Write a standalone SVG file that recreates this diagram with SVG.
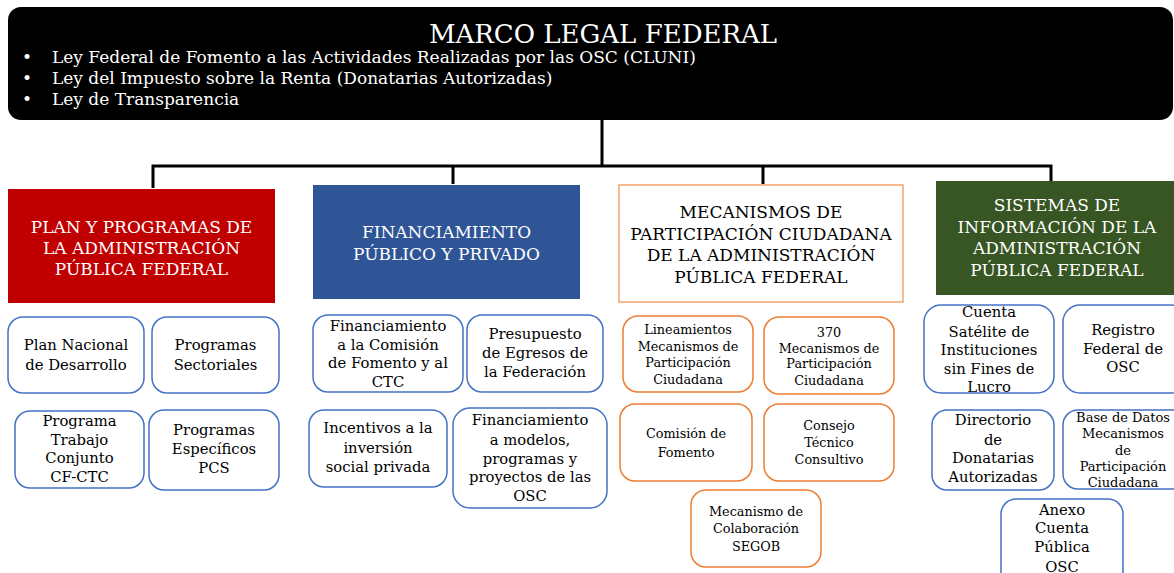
<svg xmlns="http://www.w3.org/2000/svg" width="1174" height="573" viewBox="0 0 1174 573">
<style>
text{font-family:"DejaVu Serif","Liberation Serif",serif;}
.hd{fill:#fff;font-size:17px;text-anchor:middle;}
.hdk{fill:#000;font-size:17px;text-anchor:middle;}
.t{fill:#000;text-anchor:middle;}
.b{fill:#fff;stroke:#4472C4;stroke-width:1.5;}
.o{fill:#fff;stroke:#ED7D31;stroke-width:1.5;}
.s15{font-size:14.8px;}
.s14{font-size:14.8px;}
.s13{font-size:12.8px;}
.s13b{font-size:13px;}
.con{fill:none;stroke:#000;stroke-width:3;}
</style>
<rect width="1174" height="573" fill="#fff"/>
<g id="marco-legal">
<rect x="8" y="7" width="1165" height="113" rx="13" fill="#000"/>
<text x="603" y="43" fill="#fff" font-size="26" text-anchor="middle">MARCO LEGAL FEDERAL</text>
<g fill="#fff" font-size="17">
<text x="22" y="63">•</text><text x="52" y="63">Ley Federal de Fomento a las Actividades Realizadas por las OSC (CLUNI)</text>
<text x="22" y="84">•</text><text x="52" y="84">Ley del Impuesto sobre la Renta (Donatarias Autorizadas)</text>
<text x="22" y="105">•</text><text x="52" y="105">Ley de Transparencia</text>
</g>
</g>
<g id="connectors">
<path class="con" d="M602,120 V166"/>
<path class="con" d="M153,188 V166 H1051 V181"/>
<path class="con" d="M453,166 V184"/>
<path class="con" d="M763,166 V184"/>
</g>
<g id="plan">
<rect x="8" y="189" width="267" height="114" fill="#C00000"/>
<text class="hd" x="141.5" y="233">PLAN Y PROGRAMAS DE</text>
<text class="hd" x="141.5" y="254">LA ADMINISTRACIÓN</text>
<text class="hd" x="141.5" y="275">PÚBLICA FEDERAL</text>
</g>
<g id="financiamiento">
<rect x="313" y="185" width="267" height="114" fill="#2F5597"/>
<text class="hd" x="446.5" y="238">FINANCIAMIENTO</text>
<text class="hd" x="446.5" y="260">PÚBLICO Y PRIVADO</text>
</g>
<g id="mecanismos">
<rect x="619" y="185" width="284" height="117" fill="#fff" stroke="#F4A46F" stroke-width="1.5"/>
<text class="hdk" x="761" y="218">MECANISMOS DE</text>
<text class="hdk" x="761" y="239.5">PARTICIPACIÓN CIUDADANA</text>
<text class="hdk" x="761" y="261">DE LA ADMINISTRACIÓN</text>
<text class="hdk" x="761" y="282.5">PÚBLICA FEDERAL</text>
</g>
<g id="sistemas">
<rect x="936" y="181" width="240" height="114" fill="#375623"/>
<text class="hd" x="1057" y="211">SISTEMAS DE</text>
<text class="hd" x="1057" y="233">INFORMACIÓN DE LA</text>
<text class="hd" x="1057" y="254">ADMINISTRACIÓN</text>
<text class="hd" x="1057" y="276">PÚBLICA FEDERAL</text>
</g>
<g id="plan-nacional"><rect class="b" x="8" y="317" width="136" height="76" rx="15"/>
<text class="t s14" x="76" y="350">Plan Nacional</text><text class="t s14" x="76" y="370">de Desarrollo</text></g>
<g id="programas-sectoriales"><rect class="b" x="152" y="317" width="127" height="76" rx="15"/>
<text class="t s14" x="215.5" y="350">Programas</text><text class="t s14" x="215.5" y="370">Sectoriales</text></g>
<g id="programa-trabajo"><rect class="b" x="15" y="411" width="129" height="77" rx="15"/>
<text class="t s14" x="79.5" y="426">Programa</text><text class="t s14" x="79.5" y="445">Trabajo</text><text class="t s14" x="79.5" y="463">Conjunto</text><text class="t s14" x="79.5" y="482">CF-CTC</text></g>
<g id="programas-especificos"><rect class="b" x="149" y="410" width="130" height="80" rx="15"/>
<text class="t s14" x="214" y="435">Programas</text><text class="t s14" x="214" y="454">Específicos</text><text class="t s14" x="214" y="473">PCS</text></g>
<g id="fin-comision"><rect class="b" x="313" y="315" width="150" height="77" rx="15"/>
<text class="t s15" x="388" y="331">Financiamiento</text><text class="t s15" x="388" y="350">a la Comisión</text><text class="t s15" x="388" y="368">de Fomento y al</text><text class="t s15" x="388" y="387">CTC</text></g>
<g id="presupuesto"><rect class="b" x="467" y="315" width="136" height="77" rx="15"/>
<text class="t s15" x="535" y="339">Presupuesto</text><text class="t s15" x="535" y="358">de Egresos de</text><text class="t s15" x="535" y="377">la Federación</text></g>
<g id="incentivos"><rect class="b" x="309" y="410" width="138" height="77" rx="15"/>
<text class="t s15" x="378" y="433">Incentivos a la</text><text class="t s15" x="378" y="453">inversión</text><text class="t s15" x="378" y="472">social privada</text></g>
<g id="fin-modelos"><rect class="b" x="453" y="408" width="154" height="100" rx="17"/>
<text class="t s15" x="530" y="425">Financiamiento</text><text class="t s15" x="530" y="445">a modelos,</text><text class="t s15" x="530" y="464">programas y</text><text class="t s15" x="530" y="482">proyectos de las</text><text class="t s15" x="530" y="501">OSC</text></g>
<g id="lineamientos"><rect class="o" x="623" y="316" width="130" height="76" rx="15"/>
<text class="t s13" x="688" y="334">Lineamientos</text><text class="t s13" x="688" y="351">Mecanismos de</text><text class="t s13" x="688" y="367">Participación</text><text class="t s13" x="688" y="384">Ciudadana</text></g>
<g id="mecanismos-370"><rect class="o" x="764" y="317" width="130" height="77" rx="15"/>
<text class="t s13" x="829" y="337">370</text><text class="t s13" x="829" y="353">Mecanismos de</text><text class="t s13" x="829" y="368">Participación</text><text class="t s13" x="829" y="385">Ciudadana</text></g>
<g id="comision-fomento"><rect class="o" x="620" y="404" width="132" height="77" rx="15"/>
<text class="t s13" x="686" y="438">Comisión de</text><text class="t s13" x="686" y="457">Fomento</text></g>
<g id="consejo"><rect class="o" x="764" y="404" width="130" height="77" rx="15"/>
<text class="t s13" x="829" y="430">Consejo</text><text class="t s13" x="829" y="447">Técnico</text><text class="t s13" x="829" y="464">Consultivo</text></g>
<g id="segob"><rect class="o" x="691" y="490" width="130" height="77" rx="15"/>
<text class="t s13" x="756" y="516">Mecanismo de</text><text class="t s13" x="756" y="533">Colaboración</text><text class="t s13" x="756" y="551">SEGOB</text></g>
<g id="cuenta-satelite"><rect class="b" x="924" y="305" width="130" height="88" rx="17"/>
<text class="t s15" x="989" y="317">Cuenta</text><text class="t s15" x="989" y="337">Satélite de</text><text class="t s15" x="989" y="355">Instituciones</text><text class="t s15" x="989" y="374">sin Fines de</text><text class="t s15" x="989" y="392">Lucro</text></g>
<g id="registro"><rect class="b" x="1063" y="305" width="125" height="88" rx="17"/>
<text class="t s15" x="1123" y="335">Registro</text><text class="t s15" x="1123" y="354">Federal de</text><text class="t s15" x="1123" y="372">OSC</text></g>
<g id="directorio"><rect class="b" x="932" y="410" width="122" height="80" rx="15"/>
<text class="t s15" x="993" y="425">Directorio</text><text class="t s15" x="993" y="445">de</text><text class="t s15" x="993" y="463">Donatarias</text><text class="t s15" x="993" y="482">Autorizadas</text></g>
<g id="base-datos"><rect class="b" x="1063" y="410" width="125" height="79" rx="15"/>
<text class="t s13b" x="1123" y="422">Base de Datos</text><text class="t s13b" x="1123" y="438">Mecanismos</text><text class="t s13b" x="1123" y="455">de</text><text class="t s13b" x="1123" y="471">Participación</text><text class="t s13b" x="1123" y="487">Ciudadana</text></g>
<g id="anexo"><rect class="b" x="1001" y="499" width="122" height="90" rx="15"/>
<text class="t s15" x="1062" y="515">Anexo</text><text class="t s15" x="1062" y="533">Cuenta</text><text class="t s15" x="1062" y="552">Pública</text><text class="t s15" x="1062" y="572">OSC</text></g>
</svg>
